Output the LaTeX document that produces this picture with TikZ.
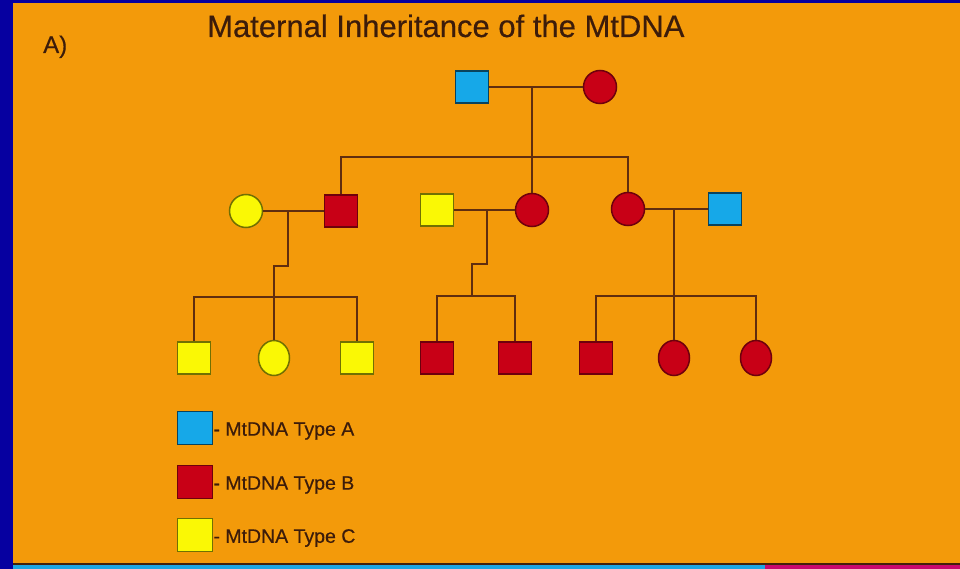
\documentclass[tikz,border=0pt]{standalone}
\usepackage{fontspec}
\setmainfont{Liberation Sans}
\newfontfamily\slidefont{Liberation Sans}[FakeBold=0.45]
\usepackage{tikz}
\usetikzlibrary{positioning,shapes.geometric}
\usepackage{xcolor}
\definecolor{slideblue}{RGB}{6,0,160}
\definecolor{slideorange}{RGB}{243,154,10}
\definecolor{stripblue}{RGB}{30,165,225}
\definecolor{stripmagenta}{RGB}{200,10,110}
\definecolor{linebrown}{RGB}{95,45,15}
\definecolor{textbrown}{RGB}{60,28,10}
\definecolor{typeA}{RGB}{22,168,232}
\definecolor{typeB}{RGB}{200,0,22}
\definecolor{typeC}{RGB}{250,248,5}
\tikzstyle{male} = [rectangle, minimum width=33pt, minimum height=32pt, inner sep=0pt, line width=1.5pt]
\tikzstyle{female} = [circle, minimum size=33pt, inner sep=0pt, line width=1.5pt]
\tikzstyle{kid} = [ellipse, minimum width=31pt, minimum height=35pt, inner sep=0pt, line width=1.5pt]
\tikzstyle{typea} = [fill=typeA, draw=typeA!40!black]
\tikzstyle{typeb} = [fill=typeB, draw=typeB!55!black]
\tikzstyle{typec} = [fill=typeC, draw=typeC!45!black]
\tikzstyle{kinline} = [line width=1.6pt, color=linebrown]
\tikzstyle{legtext} = [inner sep=0pt, text=textbrown, font=\slidefont\fontsize{19.5}{22}\selectfont]

\begin{document}
\begin{tikzpicture}[x=1pt, y=-1pt]
\useasboundingbox (0,0) rectangle (960,569);
% slide background
\fill[slideblue] (0,0) rectangle (960,569);
\fill[slideorange] (13,3) rectangle (960,563);
\fill[linebrown!70!black] (13,563) rectangle (960,565);
\fill[stripblue] (13,565) rectangle (765,569);
\fill[stripmagenta] (765,565) rectangle (960,569);

\node (tag) [anchor=base west, inner sep=0pt, text=textbrown, font=\slidefont\fontsize{24}{28}\selectfont] at (43,53) {A)};
\node (title) [anchor=base west, inner sep=0pt, text=textbrown, font=\slidefont\fontsize{31}{36}\selectfont] at (207,37) {Maternal Inheritance of the MtDNA};

% generation I
\node (i1) [male, typea] at (472,87) {};
\node (i2) [female, typeb] at (600,87) {};

% generation II
\node (ii1) [female, typec] at (246,211) {};
\node (ii2) [male, typeb] at (341,211) {};
\node (ii3) [male, typec] at (437,210) {};
\node (ii4) [female, typeb] at (532,210) {};
\node (ii5) [female, typeb] at (628,209) {};
\node (ii6) [male, typea] at (725,209) {};

% generation III
\node (iii1) [male, typec] at (194,358) {};
\node (iii2) [kid, typec] at (274,358) {};
\node (iii3) [male, typec] at (357,358) {};
\node (iii4) [male, typeb] at (437,358) {};
\node (iii5) [male, typeb] at (515,358) {};
\node (iii6) [male, typeb] at (596,358) {};
\node (iii7) [kid, typeb] at (674,358) {};
\node (iii8) [kid, typeb] at (756,358) {};

\coordinate (d1) at (532,87);
\coordinate (d2) at (288,211);
\coordinate (d3) at (487,210);
\coordinate (d4) at (674,209);
\coordinate (sib2) at (0,157);
\coordinate (sib3a) at (0,297);
\coordinate (sib3b) at (472,296);
\coordinate (sib3c) at (0,296);

% matings and descent
\draw[kinline] (i1) -- (i2);
\draw[kinline] (d1) -- (ii4.north);
\draw[kinline] (ii2.north) -- (ii2.north |- sib2) -- (ii5.north |- sib2) -- (ii5.north);

\draw[kinline] (ii1) -- (ii2);
\draw[kinline] (d2) -- ++(0,55) -| (iii2.north);
\draw[kinline] (iii1.north) -- (iii1.north |- sib3a) -- (iii3.north |- sib3a) -- (iii3.north);

\draw[kinline] (ii3) -- (ii4);
\draw[kinline] (d3) -- ++(0,54) -| (sib3b);
\draw[kinline] (iii4.north) -- (iii4.north |- sib3b) -- (iii5.north |- sib3b) -- (iii5.north);

\draw[kinline] (ii5) -- (ii6);
\draw[kinline] (d4) -- (iii7.north);
\draw[kinline] (iii6.north) -- (iii6.north |- sib3c) -- (iii8.north |- sib3c) -- (iii8.north);

% key
\node (keyA) [male, typea, minimum width=35pt, minimum height=33pt] at (195,428) {};
\node (keyB) [male, typeb, minimum width=35pt, minimum height=33pt] at (195,482) {};
\node (keyC) [male, typec, minimum width=35pt, minimum height=33pt] at (195,535) {};
\node (keyAtxt) [legtext, right=0pt of keyA, yshift=-3pt] {- MtDNA Type A};
\node (keyBtxt) [legtext, right=0pt of keyB, yshift=-3pt] {- MtDNA Type B};
\node (keyCtxt) [legtext, right=0pt of keyC, yshift=-3pt] {- MtDNA Type C};
\end{tikzpicture}
\end{document}
